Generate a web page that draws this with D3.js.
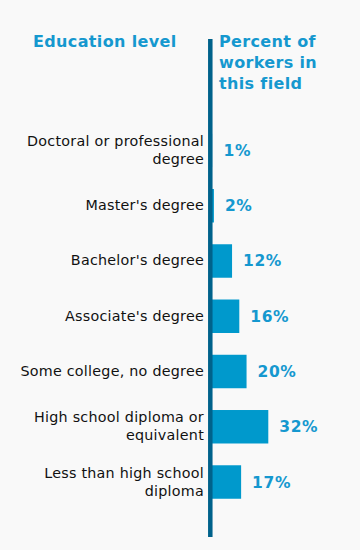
<!DOCTYPE html>
<html>
<head>
<meta charset="utf-8">
<script src="https://cdn.jsdelivr.net/npm/d3@7"></script>
<style>
  body { margin: 0; background: #f9f9f9; }
  svg { display: block; font-family: Verdana, "DejaVu Sans", sans-serif; }
</style>
</head>
<body>
<svg id="chart" width="360" height="550"></svg>
<script>
const categories = [
    ["Doctoral or professional", "degree"],
    ["Master's degree"],
    ["Bachelor's degree"],
    ["Associate's degree"],
    ["Some college, no degree"],
    ["High school diploma or", "equivalent"],
    ["Less than high school", "diploma"]
]
const shares = [1, 2, 12, 16, 20, 32, 17]
const headerLeft = ["Education level"]
const headerRight = ["Percent of", "workers in", "this field"]

const svg = d3.select("#chart")
const blue = "#0099cc"
const textBlue = "#1598cf"
const axisX = 210.3

const rows = categories.map((c, i) => ({ lines: c, value: shares[i] }))

const y = d3.scaleBand()
    .domain(d3.range(rows.length))
    .range([133.75, 498.75])
    .paddingInner(0.394)
    .paddingOuter(0)

const x = d3.scaleLinear()
    .domain([0, 32])
    .range([axisX, axisX + 58])

/* headers */
svg.append("text")
    .attr("x", 33).attr("y", 47)
    .attr("fill", textBlue)
    .attr("font-size", 16).attr("font-weight", "bold")
    .attr("letter-spacing", 0.35)
    .text(headerLeft[0])

svg.append("text")
    .attr("x", 219).attr("y", 47)
    .attr("fill", textBlue)
    .attr("font-size", 16).attr("font-weight", "bold")
    .attr("letter-spacing", 0.35)
    .selectAll("tspan")
    .data(headerRight)
    .join("tspan")
    .attr("x", 219)
    .attr("dy", (d, i) => i ? 21 : 0)
    .text(d => d)

/* bars */
svg.append("g")
    .selectAll("rect")
    .data(rows)
    .join("rect")
    .attr("x", x(0))
    .attr("y", (d, i) => y(i))
    .attr("width", d => x(d.value) - x(0))
    .attr("height", y.bandwidth())
    .attr("fill", blue)

/* axis line */
svg.append("line")
    .attr("x1", axisX).attr("x2", axisX)
    .attr("y1", 39).attr("y2", 537)
    .attr("stroke", "#00628b")
    .attr("stroke-width", 4.5)

/* category labels */
svg.append("g")
    .selectAll("text")
    .data(rows)
    .join("text")
    .attr("text-anchor", "end")
    .attr("font-size", 14.3)
    .attr("letter-spacing", 0.25)
    .attr("fill", "#111")
    .each(function (d, i) {
        const cy = y(i) + y.bandwidth() / 2
        d3.select(this).selectAll("tspan")
            .data(d.lines)
            .join("tspan")
            .attr("x", 204)
            .attr("y", (l, j) => cy + 4.5 - (d.lines.length - 1) * 9 + j * 18)
            .text(l => l)
    })

/* value labels */
svg.append("g")
    .selectAll("text")
    .data(rows)
    .join("text")
    .attr("x", d => Math.max(x(d.value), axisX + 2.3) + 11)
    .attr("y", (d, i) => y(i) + y.bandwidth() / 2 + 5.5)
    .attr("font-size", 15.5)
    .attr("letter-spacing", 0.6)
    .attr("font-weight", "bold")
    .attr("fill", textBlue)
    .text(d => d.value + "%")
</script>
</body>
</html>
